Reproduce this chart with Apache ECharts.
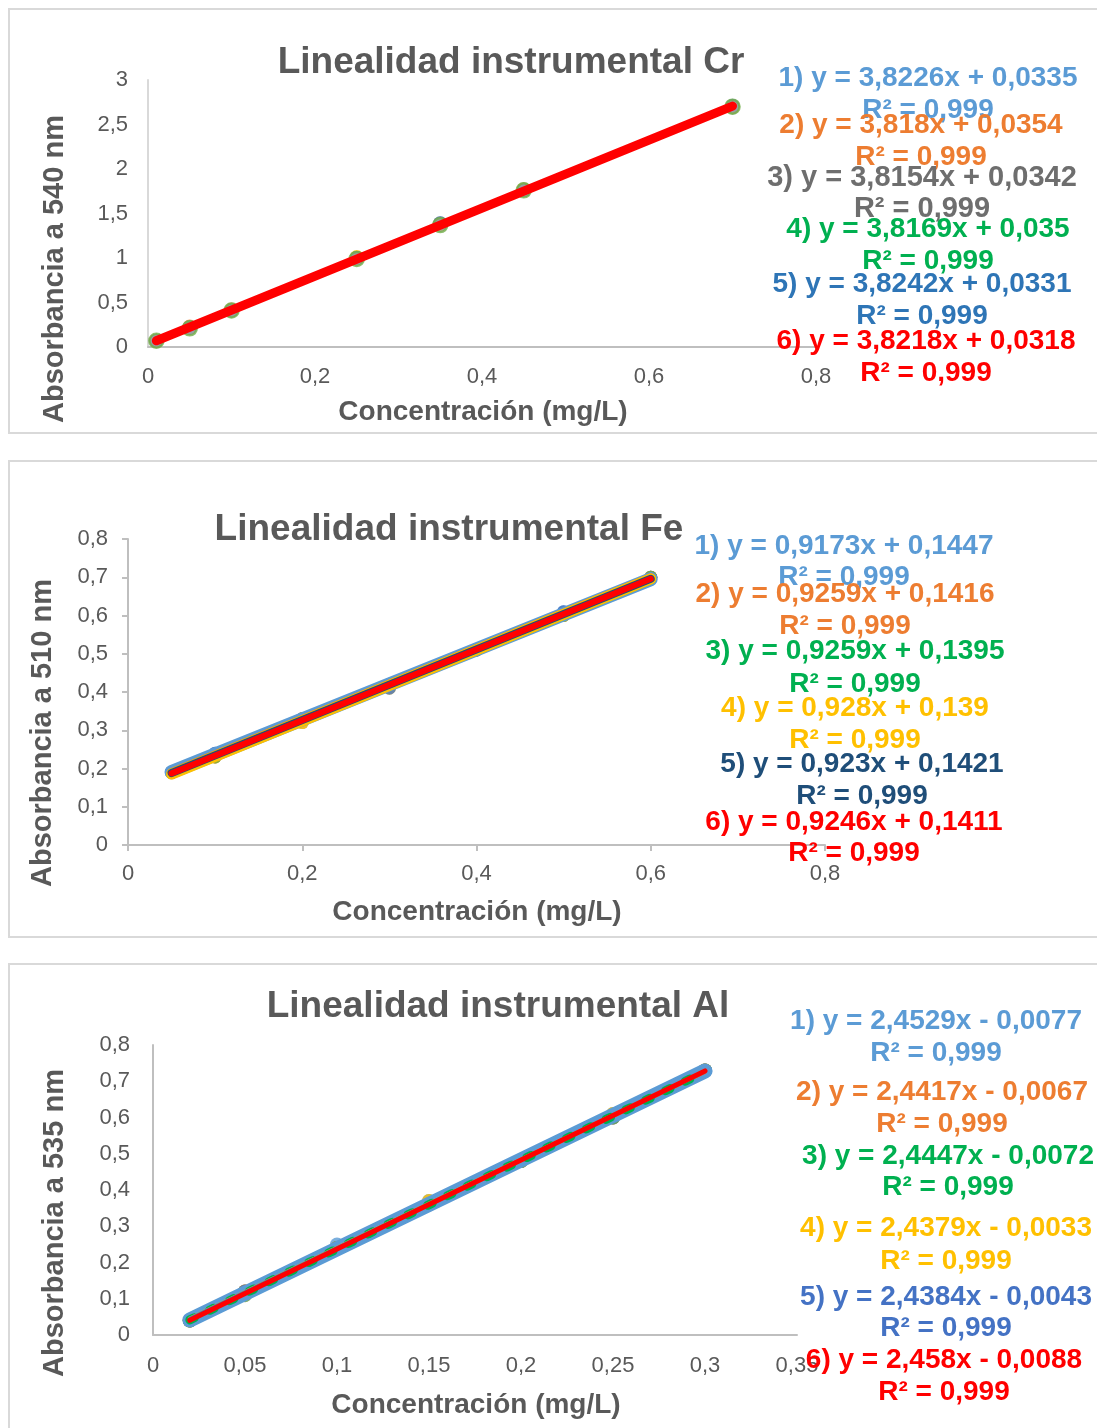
<!DOCTYPE html>
<html>
<head>
<meta charset="utf-8">
<title>Linealidad instrumental</title>
<script src="https://cdn.jsdelivr.net/npm/echarts@6/dist/echarts.min.js"></script>
<style>
  html, body { margin: 0; padding: 0; background: #fff; }
  #chart { width: 1097px; height: 1428px; }
</style>
</head>
<body>
<div id="chart"></div>
<script>
// ---- Cr (540 nm) ----
var crConc = [0.01, 0.05, 0.1, 0.25, 0.35, 0.45, 0.7];
var crAbs1 = [0.07, 0.22, 0.41, 1.00, 1.38, 1.77, 2.70];
var crAbs2 = [0.07, 0.23, 0.42, 1.00, 1.38, 1.76, 2.70];
var crAbs3 = [0.07, 0.22, 0.41, 1.00, 1.39, 1.77, 2.69];
var crAbs4 = [0.07, 0.22, 0.41, 1.01, 1.38, 1.77, 2.70];
var crAbs5 = [0.07, 0.22, 0.41, 1.00, 1.39, 1.76, 2.71];
var crAbs6 = [0.07, 0.21, 0.41, 0.99, 1.37, 1.76, 2.70];
var crSlope = [3.8226, 3.818, 3.8154, 3.8169, 3.8242, 3.8218];
var crIntercept = [0.0335, 0.0354, 0.0342, 0.035, 0.0331, 0.0318];
var crR2 = [0.999, 0.999, 0.999, 0.999, 0.999, 0.999];

// ---- Fe (510 nm) ----
var feConc = [0.05, 0.1, 0.2, 0.3, 0.4, 0.5, 0.6];
var feAbs1 = [0.19, 0.24, 0.33, 0.42, 0.51, 0.61, 0.70];
var feAbs2 = [0.19, 0.23, 0.33, 0.42, 0.51, 0.60, 0.70];
var feAbs3 = [0.19, 0.23, 0.32, 0.42, 0.51, 0.60, 0.70];
var feAbs4 = [0.19, 0.23, 0.32, 0.41, 0.51, 0.60, 0.70];
var feAbs5 = [0.19, 0.24, 0.33, 0.41, 0.51, 0.61, 0.70];
var feAbs6 = [0.19, 0.23, 0.33, 0.42, 0.51, 0.60, 0.70];
var feSlope = [0.9173, 0.9259, 0.9259, 0.928, 0.923, 0.9246];
var feIntercept = [0.1447, 0.1416, 0.1395, 0.139, 0.1421, 0.1411];
var feR2 = [0.999, 0.999, 0.999, 0.999, 0.999, 0.999];

// ---- Al (535 nm) ----
var alConc = [0.02, 0.05, 0.1, 0.15, 0.2, 0.25, 0.3];
var alAbs1 = [0.04, 0.12, 0.25, 0.37, 0.48, 0.61, 0.73];
var alAbs2 = [0.04, 0.12, 0.24, 0.36, 0.48, 0.60, 0.73];
var alAbs3 = [0.04, 0.11, 0.24, 0.36, 0.48, 0.60, 0.73];
var alAbs4 = [0.04, 0.12, 0.24, 0.37, 0.48, 0.61, 0.73];
var alAbs5 = [0.04, 0.12, 0.24, 0.36, 0.48, 0.60, 0.73];
var alAbs6 = [0.04, 0.11, 0.24, 0.36, 0.48, 0.60, 0.73];
var alSlope = [2.4529, 2.4417, 2.4447, 2.4379, 2.4384, 2.458];
var alIntercept = [-0.0077, -0.0067, -0.0072, -0.0033, -0.0043, -0.0088];
var alR2 = [0.999, 0.999, 0.999, 0.999, 0.999, 0.999];

// axis ranges [min, max, interval]
var crXRange = [0, 0.8, 0.2], crYRange = [0, 3, 0.5];
var feXRange = [0, 0.8, 0.2], feYRange = [0, 0.8, 0.1];
var alXRange = [0, 0.35, 0.05], alYRange = [0, 0.8, 0.1];

var FONT = '"Liberation Sans", Arial, sans-serif';
var GREY = '#595959';
var markerColors = ['#5B9BD5', '#ED7D31', '#A5A5A5', '#FFC000', '#4472C4', '#70AD47'];

function comma(v) {
    return String(+(+v).toFixed(4)).replace('.', ',');
}

// texto de la ecuacion de tendencia
function eqText(i, slope, icpt) {
    var sign = icpt < 0 ? ' - ' : ' + ';
    return (i + 1) + ') y = ' + comma(slope) + 'x' + sign + comma(Math.abs(icpt));
}

function makeAxis(grid, range, opt) {
    return Object.assign({
        type: 'value',
        gridIndex: grid,
        min: range[0],
        max: range[1],
        interval: range[2],
        splitLine: { show: false },
        axisLine: { show: true, lineStyle: { color: '#BFBFBF', width: 2 } },
        axisTick: { show: false },
        axisLabel: {
            color: GREY, fontSize: 22, fontFamily: FONT,
            formatter: function (v) { return comma(v); }
        }
    }, opt);
}

var series = [];

function addPanel(grid, conc, absList, slope, icpt, lineStyles, markerStyles) {
    absList.forEach(function (abs, i) {
        series.push({
            type: 'scatter',
            xAxisIndex: grid, yAxisIndex: grid,
            symbolSize: markerStyles.size,
            itemStyle: markerStyles.items[i],
            z: 2,
            data: conc.map(function (c, k) { return [c, abs[k]]; })
        });
    });
    var x0 = conc[0], x1 = conc[conc.length - 1];
    slope.forEach(function (m, i) {
        series.push({
            type: 'line',
            xAxisIndex: grid, yAxisIndex: grid,
            showSymbol: false,
            silent: true,
            z: 3 + i,
            lineStyle: Object.assign({ cap: 'round' }, lineStyles[i]),
            data: [[x0, m * x0 + icpt[i]], [x1, m * x1 + icpt[i]]]
        });
    });
}

// Cr
addPanel(0, crConc, [crAbs1, crAbs2, crAbs3, crAbs4, crAbs5, crAbs6], crSlope, crIntercept, [
    { color: '#5B9BD5', width: 6 },
    { color: '#ED7D31', width: 6 },
    { color: '#7F7F7F', width: 6 },
    { color: '#00B050', width: 6 },
    { color: '#2E75B6', width: 6 },
    { color: '#FF0000', width: 9 }
], {
    size: 14,
    items: markerColors.slice(0, 5).map(function (c) { return { color: c }; })
        .concat([{ color: '#A5A5A5', borderColor: '#70AD47', borderWidth: 2.5 }])
});

// Fe
addPanel(1, feConc, [feAbs1, feAbs2, feAbs3, feAbs4, feAbs5, feAbs6], feSlope, feIntercept, [
    { color: '#5B9BD5', width: 14 },
    { color: '#ED7D31', width: 10 },
    { color: '#00B050', width: 10 },
    { color: '#FFC000', width: 11 },
    { color: '#1F4E79', width: 8 },
    { color: '#FF0000', width: 6 }
], {
    size: 13,
    items: markerColors.map(function (c) { return { color: c }; })
});

// Al
addPanel(2, alConc, [alAbs1, alAbs2, alAbs3, alAbs4, alAbs5, alAbs6], alSlope, alIntercept, [
    { color: '#5B9BD5', width: 15 },
    { color: '#ED7D31', width: 4 },
    { color: '#00B050', width: 9, type: [5, 17], cap: 'round' },
    { color: '#FFC000', width: 4 },
    { color: '#4472C4', width: 4 },
    { color: '#FF0000', width: 5 }
], {
    size: 14,
    items: markerColors.map(function (c) { return { color: c }; })
});

var graphic = [];

// marcos de cada grafico
[[9, 9, 1100, 424], [9, 461, 1100, 476], [9, 964, 1100, 480]].forEach(function (r) {
    graphic.push({
        type: 'rect', silent: true, z: 0,
        shape: { x: r[0], y: r[1], width: r[2], height: r[3] },
        style: { fill: '#fff', stroke: '#D9D9D9', lineWidth: 2 }
    });
});

function addText(text, x, y, size, color, weight, rot) {
    graphic.push({
        type: 'text', x: x, y: y, z: 50, rotation: rot || 0,
        style: {
            text: text, fill: color, align: 'center', verticalAlign: 'middle',
            font: (weight || 'bold') + ' ' + size + 'px ' + FONT
        }
    });
}

// titulos
addText('Linealidad instrumental Cr', 511, 63, 37, GREY);
addText('Linealidad instrumental Fe', 449, 530, 37, GREY);
addText('Linealidad instrumental Al', 498, 1007, 37, GREY);

// titulos de ejes
addText('Concentración (mg/L)', 483, 412, 28, GREY);
addText('Concentración (mg/L)', 477, 912, 28, GREY);
addText('Concentración (mg/L)', 476, 1405, 28, GREY);
addText('Absorbancia a 540 nm', 55, 269, 29, GREY, 'bold', Math.PI / 2);
addText('Absorbancia a 510 nm', 43, 733, 29, GREY, 'bold', Math.PI / 2);
addText('Absorbancia a 535 nm', 55, 1223, 29, GREY, 'bold', Math.PI / 2);

// etiquetas de las ecuaciones
var crLabelPos = [[928, 78, 110], [921, 125, 157], [922, 178, 209], [928, 229, 261], [922, 284, 316], [926, 341, 373]];
var feLabelPos = [[844, 546, 577], [845, 594, 626], [855, 651, 684], [855, 708, 740], [862, 764, 796], [854, 822, 853]];
var alLabelPos = [[936, 1021, 1053], [942, 1092, 1124], [948, 1156, 1187], [946, 1228, 1261], [946, 1297, 1328], [944, 1360, 1392]];
var crLabelColor = ['#5B9BD5', '#ED7D31', '#6E6E6E', '#00B050', '#2E75B6', '#FF0000'];
var feLabelColor = ['#5B9BD5', '#ED7D31', '#00B050', '#FFC000', '#1F4E79', '#FF0000'];
var alLabelColor = ['#5B9BD5', '#ED7D31', '#00B050', '#FFC000', '#4472C4', '#FF0000'];

function addLabels(slope, icpt, r2, pos, colors, sizes) {
    slope.forEach(function (m, i) {
        var s = sizes ? sizes[i] : 28;
        addText(eqText(i, m, icpt[i]), pos[i][0], pos[i][1], s, colors[i]);
        addText('R² = ' + comma(r2[i]), pos[i][0], pos[i][2], s, colors[i]);
    });
}
addLabels(crSlope, crIntercept, crR2, crLabelPos, crLabelColor, [28, 28, 29, 28, 28, 28]);
addLabels(feSlope, feIntercept, feR2, feLabelPos, feLabelColor);
addLabels(alSlope, alIntercept, alR2, alLabelPos, alLabelColor);

var myChart = echarts.init(document.getElementById('chart'));

var option = {
    backgroundColor: '#fff',
    animation: false,
    textStyle: { fontFamily: FONT },
    grid: [
        { left: 148, top: 80, width: 668, height: 267 },
        { left: 128, top: 539, width: 697, height: 306 },
        { left: 153, top: 1045, width: 644, height: 290 }
    ],
    xAxis: [
        makeAxis(0, crXRange, {}),
        makeAxis(1, feXRange, {
            axisTick: { show: true, length: 6, lineStyle: { color: '#BFBFBF', width: 2 } }
        }),
        makeAxis(2, alXRange, {})
    ],
    yAxis: [
        makeAxis(0, crYRange, {}),
        makeAxis(1, feYRange, {
            axisTick: { show: true, length: 6, lineStyle: { color: '#BFBFBF', width: 2 } }
        }),
        makeAxis(2, alYRange, {})
    ],
    graphic: graphic,
    series: series
};

// margenes de las etiquetas de los ejes
option.xAxis[0].axisLabel.margin = 19;
option.xAxis[1].axisLabel.margin = 18;
option.xAxis[2].axisLabel.margin = 20;
option.yAxis[0].axisLabel.margin = 20;
option.yAxis[1].axisLabel.margin = 20;
option.yAxis[2].axisLabel.margin = 23;
option.yAxis[0].axisLine.lineStyle = { color: '#D9D9D9', width: 2 };

myChart.setOption(option);
</script>
</body>
</html>
